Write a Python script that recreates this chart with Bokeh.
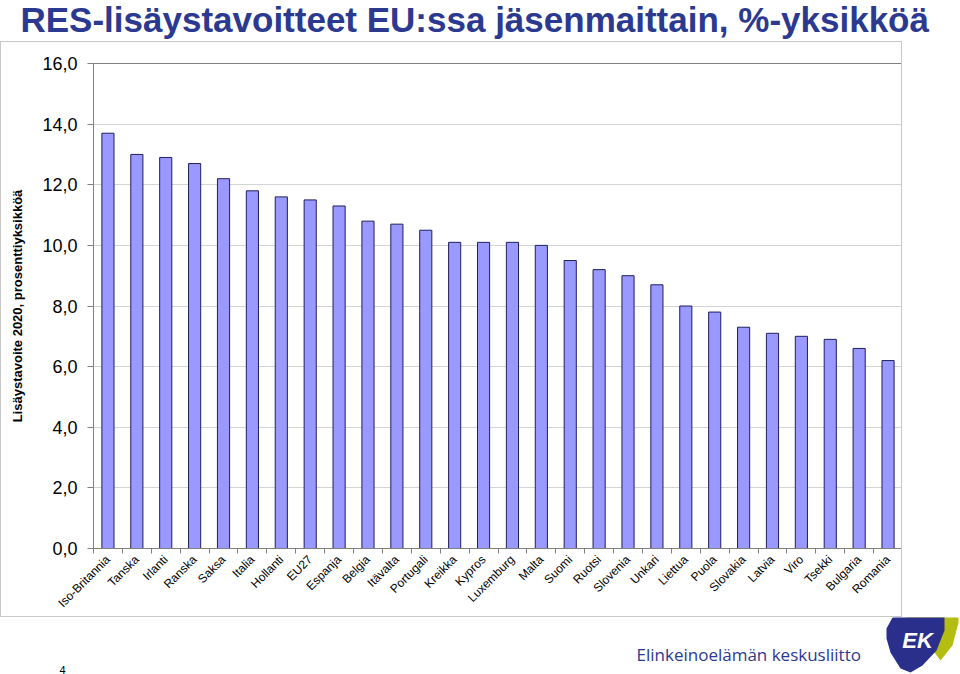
import math
from bokeh.plotting import figure
from bokeh.layouts import column
from bokeh.models import ColumnDataSource, Range1d, FixedTicker
from bokeh.core.properties import value
from bokeh.embed import file_html
from bokeh.resources import INLINE

countries = ["Iso-Britannia", "Tanska", "Irlanti", "Ranska", "Saksa", "Italia",
             "Hollanti", "EU27", "Espanja", "Belgia", "Itävalta", "Portugali",
             "Kreikka", "Kypros", "Luxemburg", "Malta", "Suomi", "Ruotsi",
             "Slovenia", "Unkari", "Liettua", "Puola", "Slovakia", "Latvia",
             "Viro", "Tsekki", "Bulgaria", "Romania"]
values = [13.7, 13.0, 12.9, 12.7, 12.2, 11.8, 11.6, 11.5, 11.3, 10.8, 10.7, 10.5,
          10.1, 10.1, 10.1, 10.0, 9.5, 9.2, 9.0, 8.7, 8.0, 7.8, 7.3, 7.1,
          7.0, 6.9, 6.6, 6.2]
y_ticks = [0, 2, 4, 6, 8, 10, 12, 14, 16]
y_tick_labels = ["0,0", "2,0", "4,0", "6,0", "8,0", "10,0", "12,0", "14,0", "16,0"]

title_text = "RES-lisäystavoitteet EU:ssa jäsenmaittain, %-yksikköä"
y_label_text = "Lisäystavoite 2020, prosenttiyksikköä"
org_text = "Elinkeinoelämän keskusliitto"
page_no = "4"

NAVY = "#2B3990"
W = 960
TOP_H = 41          # title strip
MAIN_H = 576        # chart box 41..617
BOT_H = 674 - TOP_H - MAIN_H
FL, FR, FT, FB = 93, 901, 63, 553   # plot frame on page


def no_align(f):
    if "frame_align" in f.properties():
        f.frame_align = False
    return f


def strip(h, y0):
    f = figure(width=W, height=h, output_backend="svg", toolbar_location=None,
               x_range=Range1d(0, W), y_range=Range1d(y0 + h, y0),
               min_border=0, x_axis_type=None, y_axis_type=None)
    f.outline_line_color = None
    f.grid.grid_line_color = None
    f.background_fill_color = "white"
    f.border_fill_color = "white"
    return no_align(f)


# ---- title strip
pt = strip(TOP_H, 0)
pt.text(x=[20], y=[19], text=[title_text], text_font=value("Liberation Sans"),
        text_font_style="bold", text_font_size="35px", text_color=NAVY,
        text_align="left", text_baseline="middle")

# ---- main chart
n = len(countries)
centers = [i + 0.5 for i in range(n)]
bounds = list(range(n + 1))
src = ColumnDataSource(dict(x=centers, top=values, name=countries))

p = figure(width=FR + 1, height=MAIN_H, output_backend="svg", toolbar_location=None,
           x_range=Range1d(0, n), y_range=Range1d(0, 16),
           min_border_left=FL - 1, min_border_right=1,
           min_border_top=FT - TOP_H - 1, min_border_bottom=TOP_H + MAIN_H - FB - 1,
           styles={"border": "1px solid #C8C8C8", "box-sizing": "border-box"})
no_align(p)
p.background_fill_color = "white"
p.border_fill_color = "white"
p.outline_line_color = "#808080"
p.outline_line_width = 1

p.vbar(x="x", top="top", width=0.42, source=src, fill_color="#9999FF",
       line_color="#1F1F5C", line_width=1)

p.yaxis.ticker = FixedTicker(ticks=y_ticks)
p.yaxis.major_label_overrides = {t: l for t, l in zip(y_ticks, y_tick_labels)}
p.yaxis.major_label_text_font = "Liberation Sans"
p.yaxis.major_label_text_font_size = "18px"
p.yaxis.major_label_text_color = "black"
p.yaxis.major_label_standoff = 10
p.yaxis.major_tick_out = 6
p.yaxis.major_tick_in = 0
p.yaxis.minor_tick_line_color = None
p.yaxis.axis_line_color = "#808080"
p.yaxis.major_tick_line_color = "#808080"
p.yaxis.axis_label = y_label_text
p.yaxis.axis_label_text_font = "Liberation Sans"
p.yaxis.axis_label_text_font_style = "bold"
p.yaxis.axis_label_text_font_size = "13px"
p.yaxis.axis_label_text_color = "black"
p.yaxis.axis_label_standoff = 14

p.xaxis.ticker = FixedTicker(ticks=centers, minor_ticks=bounds)
p.xaxis.major_label_overrides = {c: name for c, name in zip(centers, countries)}
p.xaxis.major_label_orientation = math.pi / 4
p.xaxis.major_label_text_font = "Liberation Sans"
p.xaxis.major_label_text_font_size = "12px"
p.xaxis.major_label_text_color = "black"
p.xaxis.major_label_standoff = 3
p.xaxis.major_tick_line_color = None
p.xaxis.minor_tick_line_color = "#808080"
p.xaxis.minor_tick_out = 5
p.xaxis.minor_tick_in = 0
p.xaxis.axis_line_color = "#808080"

p.xgrid.grid_line_color = None
p.ygrid.grid_line_color = "#D4D4D4"
p.ygrid.ticker = FixedTicker(ticks=y_ticks)

# ---- bottom strip: page number, organisation name, logo
y0 = TOP_H + MAIN_H
pb = strip(BOT_H, y0)
pb.text(x=[62], y=[669], text=[page_no], text_font=value("Liberation Sans"),
        text_font_size="11px", text_align="center", text_baseline="middle")
pb.text(x=[636], y=[654], text=[org_text], text_font=value("Open Sans"),
        text_font_size="17px", text_color=NAVY, text_align="left",
        text_baseline="middle")
gx = [905, 922, 945, 958, 958, 952, 940, 925]
gy = [616, 604, 597, 598, 622, 645, 660, 640]
pb.patch(gx, gy, fill_color="#B4BE12", line_color=None)
bx = [886, 892, 915, 935, 944, 944, 936, 922, 910, 900, 890, 886]
by = [628, 617, 611, 610, 616, 630, 650, 665, 672, 668, 652, 638]
pb.patch(bx, by, fill_color="#2B2F8C", line_color=None)
pb.text(x=[917], y=[640], text=["EK"], text_font=value("Liberation Sans"),
        text_font_style="bold italic", text_font_size="22px", text_color="white",
        text_align="center", text_baseline="middle")

layout = column(pt, p, pb, spacing=0)
open("out.html", "w").write(file_html(layout, INLINE))
